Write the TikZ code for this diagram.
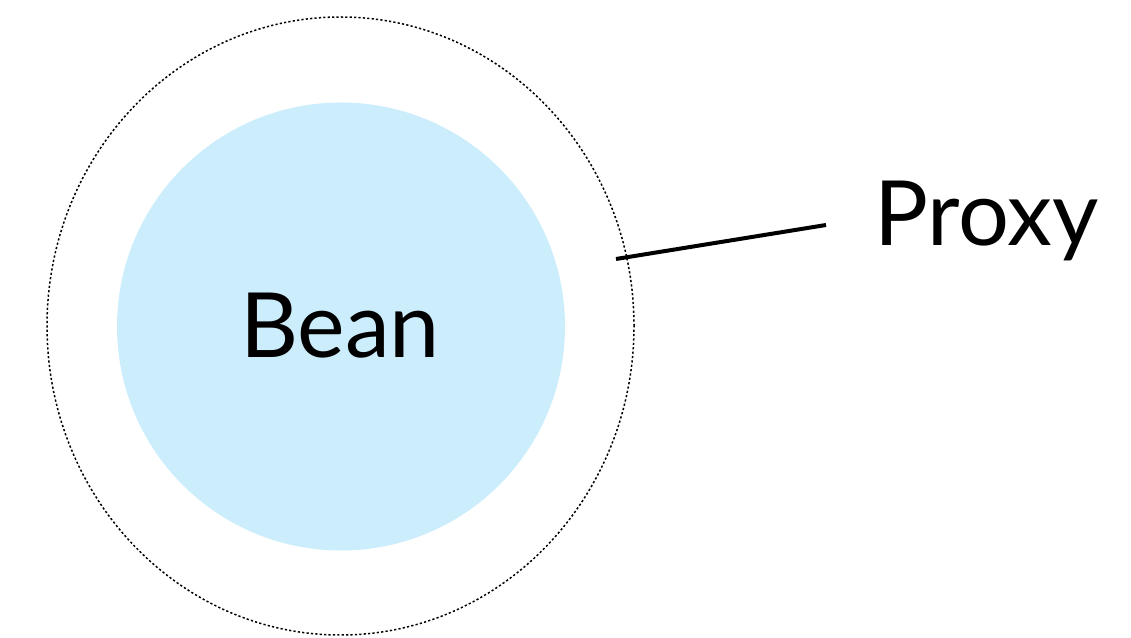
\documentclass[tikz,border=0pt]{standalone}
\usepackage{fontspec}
\setmainfont{Lato}
\usetikzlibrary{shapes.geometric}
\begin{document}
\begin{tikzpicture}[x=1pt,y=1pt,
  lbl/.style={font=\fontsize{90}{90}\selectfont, inner sep=0pt},
  beanfill/.style={circle, fill=beanblue, minimum size=448pt, inner sep=0pt},
  dotline/.style={draw, line width=1.5pt, dash pattern=on 2.2pt off 2.2pt}]
\definecolor{beanblue}{HTML}{CCEEFC}
\useasboundingbox (0,0) rectangle (1131,637);
\node[beanfill] (bean) at (341,310.5) {};
\node[lbl, anchor=base] (beantext) at (340,279) {Bean};
\node[ellipse, dotline, minimum width=587pt, minimum height=618pt, inner sep=0pt] (proxyell) at (340.5,311) {};
\node[lbl, anchor=base west] (proxytext) at (874,391) {Proxy};
\coordinate (lineA) at (616,378);
\coordinate (lineB) at (826,412);
\draw[line width=4pt] (lineA) -- (lineB);
\end{tikzpicture}
\end{document}
